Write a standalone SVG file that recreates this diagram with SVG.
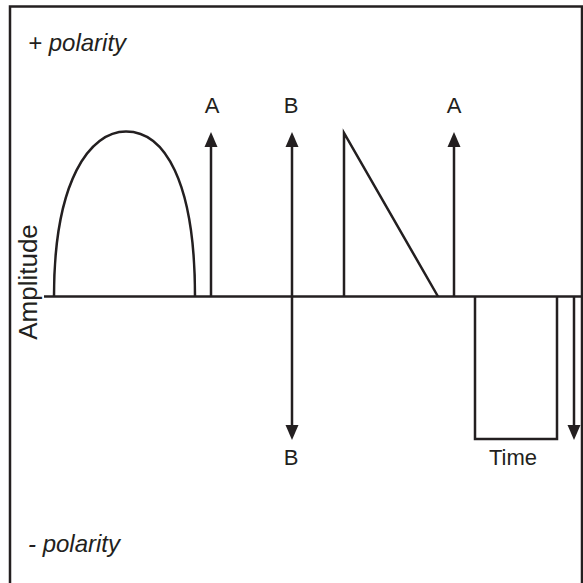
<svg xmlns="http://www.w3.org/2000/svg" width="583" height="583" viewBox="0 0 583 583">
<style>
.ln{fill:none;stroke:#231f20;stroke-width:2.5;stroke-linejoin:miter}
.hd{fill:#231f20}
.t{font-family:"Liberation Sans",Arial,sans-serif;font-size:22px;fill:#231f20}
.i{font-style:italic;font-size:24px}
.v{font-size:26px}
</style>
<rect width="583" height="583" fill="#fff"/>
<g id="frame"><path class="ln" d="M10,583 V6.5 H582 V583"/></g>
<g id="labels">
<text class="t i" x="28" y="51">+ polarity</text>
<text class="t i" x="28" y="552">- polarity</text>
<text class="t v" transform="translate(37,282) rotate(-90)" text-anchor="middle">Amplitude</text>
<text class="t" x="212" y="113" text-anchor="middle">A</text>
<text class="t" x="291" y="113" text-anchor="middle">B</text>
<text class="t" x="454" y="113" text-anchor="middle">A</text>
<text class="t" x="291" y="465" text-anchor="middle">B</text>
<text class="t" x="513" y="465" text-anchor="middle">Time</text>
</g>
<g id="axis"><path class="ln" d="M44,296.5 H582"/></g>
<g id="waves">
<path class="ln" d="M54,296.5 C54,180 90,131.5 126,131.5 C164,131.5 195,180 195,296.5"/>
<path class="ln" d="M344,296.5 V133 L438,296.5"/>
<path class="ln" d="M475,296.5 V439 H557 V296.5"/>
</g>
<g id="connectors">
<path class="ln" d="M211,296.5 V145"/>
<polygon class="hd" points="211,132 204.5,147 217.5,147"/>
<path class="ln" d="M292,146 V427"/>
<polygon class="hd" points="292,132 285.5,147 298.5,147"/>
<polygon class="hd" points="292,440 285.5,425 298.5,425"/>
<path class="ln" d="M454,296.5 V145"/>
<polygon class="hd" points="454,132 447.5,147 460.5,147"/>
<path class="ln" d="M574,296.5 V427"/>
<polygon class="hd" points="574,440 567.5,425 580.5,425"/>
</g>
</svg>
